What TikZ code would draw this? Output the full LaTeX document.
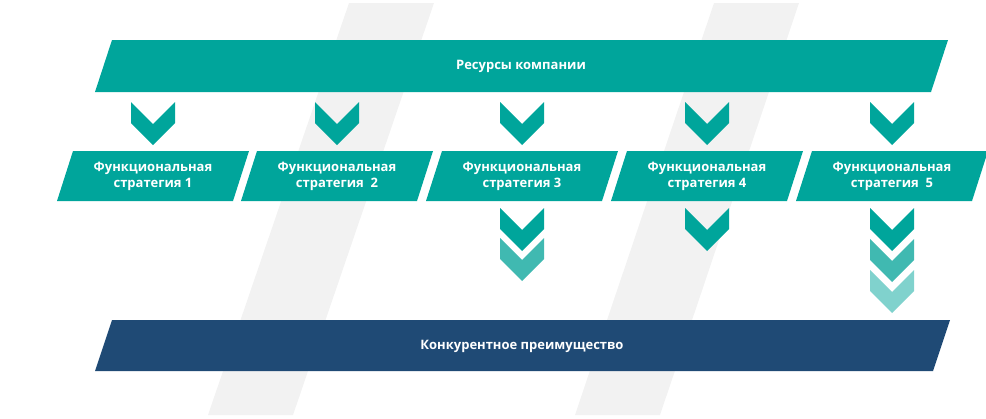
\documentclass[tikz,border=0pt]{standalone}
\usepackage{fontspec}
\setmainfont{Open Sans}
\definecolor{teal1}{HTML}{00A59B}
\definecolor{teal2}{HTML}{40B9B1}
\definecolor{teal3}{HTML}{80D2CD}
\definecolor{navy}{HTML}{1F4A75}
\definecolor{band}{HTML}{F2F2F2}
\begin{document}
\begin{tikzpicture}[x=1pt,y=-1pt,
  lbl/.style={text=white,font=\fontsize{13}{16}\selectfont\bfseries,align=center},
  chev/.style={fill=#1}]
\useasboundingbox (0,0) rectangle (986,418);
% background bands
\fill[band] (349,3) -- (434,3) -- (293,415) -- (208,415) -- cycle;
\fill[band] (714,3) -- (799,3) -- (660,415) -- (575,415) -- cycle;
% top bar
\fill[teal1] (112,40) -- (948,40) -- (931,92) -- (95,92) -- cycle;
\node[lbl] (res) at (521,66) {Ресурсы компании};
% bottom bar
\fill[navy] (112,320) -- (950,320) -- (933,371) -- (95,371) -- cycle;
\node[lbl] (adv) at (522,346) {Конкурентное преимущество};
% strategy boxes and chevrons
\foreach \i/\x/\t in {1/73/{стратегия 1},2/257/{стратегия\ \ 2},3/442/{стратегия 3},4/627/{стратегия 4},5/812/{стратегия\ \ 5}}{
  \fill[teal1] (\x,151) -- (\x+176,151) -- (\x+160,201) -- (\x-16,201) -- cycle;
  \node[lbl] (s\i) at (\x+80,176) {Функциональная\\\t};
  \pgfmathsetmacro\cx{\x+80}
  \fill[teal1] (\cx-22,102) -- (\cx,124) -- (\cx+22,102) -- (\cx+22,123) -- (\cx,145) -- (\cx-22,123) -- cycle;
}
\newcommand\mychev[3]{\fill[#3] (#1-22,#2) -- (#1,#2+22) -- (#1+22,#2) -- (#1+22,#2+21) -- (#1,#2+43) -- (#1-22,#2+21) -- cycle;}
\mychev{522}{238}{teal2}
\mychev{522}{208}{teal1}
\mychev{707}{208}{teal1}
\mychev{892}{270}{teal3}
\mychev{892}{239}{teal2}
\mychev{892}{208}{teal1}
\end{tikzpicture}
\end{document}
